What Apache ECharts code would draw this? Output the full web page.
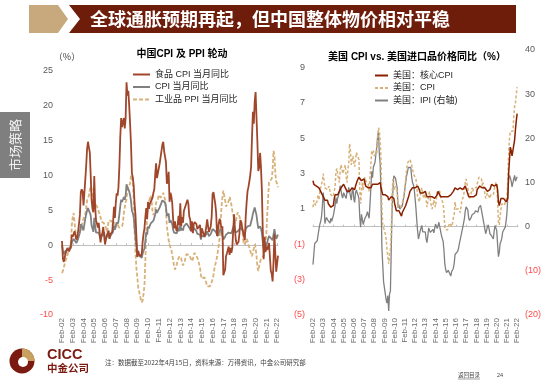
<!DOCTYPE html>
<html><head><meta charset="utf-8">
<script src="https://cdn.jsdelivr.net/npm/echarts@6/dist/echarts.min.js"></script>
<style>html,body{margin:0;padding:0;background:#fff}#c{width:550px;height:384px}</style>
</head><body><div id="c"></div>
<script>
// ---------- DATA ----------
// Monthly categories Feb-02 ... Mar-22
const monthNames = ['Jan','Feb','Mar','Apr','May','Jun','Jul','Aug','Sep','Oct','Nov','Dec'];
const categories = [];
for (let y = 2002; y <= 2022; y++) {
  for (let m = 0; m < 12; m++) {
    if (y === 2002 && m < 1) continue;
    if (y === 2022 && m > 2) break;
    categories.push(monthNames[m] + '-' + String(y).slice(2));
  }
}

// China: food CPI YoY (%), from Feb-02
const foodCPI = [
  0.6,-1.9,-2.4,-1.8,-1.2,-1.0,-0.4,-0.5,-0.9,-1.0,0.0,
  1.5,1.2,1.2,2.0,1.9,0.8,1.1,2.0,3.1,4.4,7.6,8.0,
  7.7,5.7,7.5,9.4,11.4,13.8,14.8,14.0,13.3,10.1,6.5,5.2,
  4.7,9.9,5.5,3.5,3.1,2.5,3.2,1.8,0.4,1.4,1.7,2.6,
  2.8,0.1,0.3,1.4,1.5,2.1,0.9,1.6,1.6,1.9,3.3,5.5,
  3.9,6.0,7.4,7.1,8.3,11.2,15.4,18.2,16.9,17.6,18.2,16.7,
  18.2,23.3,21.4,22.1,19.9,17.3,14.4,10.3,9.7,8.5,5.9,4.3,
  4.2,-1.7,-0.8,-1.3,-1.2,-1.6,-1.2,0.5,1.6,2.4,4.0,5.3,
  3.7,6.2,5.2,5.9,6.1,5.7,6.8,7.5,8.0,10.1,11.7,9.6,
  10.3,11.0,11.7,11.5,11.7,14.4,14.8,13.4,13.4,11.9,8.8,9.1,
  10.5,6.2,7.5,7.0,6.0,3.7,2.4,3.4,2.5,2.0,2.8,4.2,
  2.9,6.0,2.7,4.0,3.2,4.9,5.0,4.7,6.1,6.5,5.9,4.1,
  3.7,2.0,3.4,1.7,3.0,3.3,3.2,3.0,2.3,2.2,2.5,2.9,
  1.1,2.4,2.3,1.6,1.2,1.8,2.7,3.7,2.7,1.9,2.1,2.7,
  4.1,7.3,7.6,7.4,5.9,4.6,1.3,1.3,3.2,3.8,4.0,2.4,
  2.7,-4.3,-4.4,-3.5,-1.6,-1.2,-1.1,-0.2,-1.4,-0.4,-1.1,-0.4,
  -0.5,4.4,2.1,0.7,0.1,0.3,0.5,1.7,3.6,3.3,2.5,1.9,
  1.9,0.7,4.1,6.1,7.7,8.3,9.1,10.0,11.2,15.5,19.1,17.4,
  20.6,21.9,18.3,14.8,10.6,11.1,13.2,11.2,7.9,2.2,-2.0,1.2,
  -1.0,-0.2,-0.7,-0.7,0.3,-1.7,-3.7,-4.1,-5.2,-2.4,1.6,-1.2,
  -3.8,-3.9,-1.5
];
// China: CPI YoY (%)
const cnCPI = [
  0.0,-0.8,-1.3,-1.1,-0.8,-0.9,-0.7,-0.7,-0.8,-0.7,-0.4,
  0.4,0.2,0.9,1.0,0.7,0.3,0.5,0.9,1.1,1.8,3.0,3.2,
  3.2,2.1,3.0,3.8,4.4,5.0,5.3,5.3,5.2,4.3,2.8,2.4,
  1.9,3.9,2.7,1.8,1.8,1.6,1.8,1.3,0.9,1.2,1.3,1.6,
  1.9,0.9,0.8,1.2,1.4,1.5,1.0,1.3,1.5,1.4,1.9,2.8,
  2.2,2.7,3.3,3.0,3.4,4.4,5.6,6.5,6.2,6.5,6.9,6.5,
  7.1,8.7,8.3,8.5,7.7,7.1,6.3,4.9,4.6,4.0,2.4,1.2,
  1.0,-1.6,-1.2,-1.5,-1.4,-1.7,-1.8,-1.2,-0.8,-0.5,0.6,1.9,
  1.5,2.7,2.4,2.8,3.1,2.9,3.3,3.5,3.6,4.4,5.1,4.6,
  4.9,4.9,5.4,5.3,5.5,6.4,6.5,6.2,6.1,5.5,4.2,4.1,
  4.5,3.2,3.6,3.4,3.0,2.2,1.8,2.0,1.9,1.7,2.0,2.5,
  2.0,3.2,2.1,2.4,2.1,2.7,2.7,2.6,3.1,3.2,3.0,2.5,
  2.5,2.0,2.4,1.8,2.5,2.3,2.3,2.0,1.6,1.6,1.4,1.5,
  0.8,1.4,1.4,1.5,1.2,1.4,1.6,2.0,1.6,1.3,1.5,1.6,
  1.8,2.3,2.3,2.3,2.0,1.9,1.8,1.3,1.9,2.1,2.3,2.1,
  2.5,0.8,0.9,1.2,1.5,1.5,1.4,1.8,1.6,1.9,1.7,1.8,
  1.5,2.9,2.1,1.8,1.8,1.9,2.1,2.3,2.5,2.5,2.2,1.9,
  1.7,1.5,2.3,2.5,2.7,2.7,2.8,2.8,3.0,3.8,4.5,4.5,
  5.4,5.2,4.3,3.3,2.4,2.5,2.7,2.4,1.7,0.5,-0.5,0.2,
  -0.3,-0.2,0.4,0.9,1.3,1.1,1.0,0.8,0.7,1.5,2.3,1.5,
  0.9,0.9,1.5
];
// China: industrial PPI YoY (%)
const cnPPI = [
  -4.0,-3.7,-3.2,-2.7,-2.2,-1.9,-1.5,-0.9,-0.4,-0.1,0.4,
  2.9,4.0,4.6,3.2,2.0,1.3,1.4,1.5,1.7,1.8,2.2,2.5,
  3.5,3.6,4.0,4.5,5.3,6.4,6.4,7.1,7.9,8.4,8.1,7.1,
  5.8,5.4,5.6,5.8,5.9,5.2,5.2,5.3,4.0,3.4,3.2,3.2,
  3.1,3.0,2.5,1.9,2.4,3.5,3.6,3.4,3.5,2.9,2.8,3.1,
  3.3,2.6,2.7,2.9,2.8,2.5,2.4,2.6,2.7,3.2,4.6,5.4,
  6.1,6.6,8.0,8.1,8.2,8.8,10.0,10.1,9.1,6.6,2.0,-1.1,
  -3.3,-4.5,-6.0,-6.6,-7.2,-7.8,-8.2,-7.9,-7.0,-5.8,-2.1,1.7,
  4.3,5.4,5.9,6.8,7.1,6.4,4.8,4.3,4.3,5.0,6.1,5.9,
  6.6,7.2,7.3,6.8,6.8,7.1,7.5,7.3,6.5,5.0,2.7,1.7,
  0.7,0.0,-0.3,-0.7,-1.4,-2.1,-2.9,-3.5,-3.6,-2.8,-2.2,-1.9,
  -1.6,-1.6,-1.9,-2.6,-2.9,-2.7,-2.3,-1.6,-1.3,-1.5,-1.4,-1.4,
  -1.6,-2.0,-2.3,-2.0,-1.4,-1.1,-0.9,-1.2,-1.8,-2.2,-2.7,-3.3,
  -4.3,-4.8,-4.6,-4.6,-4.6,-4.8,-5.4,-5.9,-5.9,-5.9,-5.9,-5.9,
  -5.3,-4.9,-4.3,-3.4,-2.8,-2.6,-1.7,-0.8,0.1,1.2,3.3,5.5,
  6.9,7.8,7.6,6.4,5.5,5.5,5.5,6.3,6.9,6.9,5.8,4.9,
  4.3,3.7,3.1,3.4,4.1,4.7,4.6,4.1,3.6,3.3,2.7,0.9,
  0.1,0.1,0.4,0.9,0.6,0.0,-0.3,-0.8,-1.2,-1.6,-1.4,-0.5,
  0.1,-0.4,-1.5,-3.1,-3.7,-3.0,-2.4,-2.0,-2.1,-2.1,-1.5,-0.4,
  0.3,1.7,4.4,6.8,9.0,8.8,9.0,9.5,10.7,13.5,12.9,10.3,
  9.1,8.8,8.3
];
// US: core CPI YoY (%), from Feb-02
const usCore = [
  2.6,2.4,2.5,2.5,2.3,2.2,2.4,2.2,2.2,2.0,1.9,
  1.9,1.7,1.7,1.5,1.6,1.5,1.5,1.3,1.2,1.3,1.1,1.1,
  1.1,1.2,1.6,1.8,1.7,1.9,1.8,1.7,2.0,2.0,2.2,2.2,
  2.3,2.4,2.3,2.2,2.2,2.0,2.1,2.1,2.0,2.1,2.1,2.2,
  2.1,2.1,2.1,2.3,2.4,2.6,2.7,2.8,2.9,2.7,2.6,2.6,
  2.7,2.7,2.5,2.3,2.2,2.2,2.2,2.1,2.1,2.2,2.3,2.4,
  2.5,2.3,2.4,2.3,2.3,2.4,2.5,2.5,2.5,2.2,2.0,1.8,
  1.7,1.8,1.8,1.9,1.8,1.7,1.5,1.4,1.5,1.7,1.7,1.8,
  1.6,1.3,1.1,0.9,0.9,0.9,0.9,0.9,0.8,0.6,0.8,0.8,
  1.0,1.1,1.2,1.3,1.5,1.6,1.8,2.0,2.0,2.1,2.2,2.2,
  2.3,2.2,2.3,2.3,2.3,2.2,2.1,1.9,2.0,2.0,1.9,1.9,
  1.9,2.0,1.9,1.7,1.7,1.6,1.7,1.8,1.7,1.7,1.7,1.7,
  1.6,1.6,1.7,1.8,2.0,1.9,1.9,1.7,1.7,1.8,1.7,1.6,
  1.6,1.7,1.8,1.8,1.7,1.8,1.8,1.8,1.9,1.9,2.0,2.1,
  2.2,2.3,2.2,2.1,2.2,2.2,2.2,2.3,2.2,2.1,2.1,2.2,
  2.3,2.2,2.0,1.9,1.7,1.7,1.7,1.7,1.7,1.8,1.7,1.8,
  1.8,1.8,2.1,2.1,2.2,2.3,2.4,2.2,2.2,2.1,2.2,2.2,
  2.2,2.1,2.0,2.1,2.0,2.1,2.2,2.4,2.4,2.3,2.3,2.3,
  2.3,2.4,2.1,1.4,1.2,1.2,1.6,1.7,1.7,1.6,1.6,1.6,
  1.4,1.3,1.6,3.0,3.8,4.5,4.3,4.0,4.0,4.6,4.9,5.5,
  6.0,6.4
];
// US: CPI YoY (%)
const usCPI = [
  1.1,1.5,1.6,1.2,1.1,1.5,1.8,1.5,2.0,2.2,2.4,
  2.6,3.0,3.0,2.2,2.1,2.1,2.1,2.2,2.3,2.0,1.8,1.9,
  1.9,1.7,1.7,2.3,3.1,3.3,3.0,2.7,2.5,3.2,3.5,3.3,
  3.0,3.0,3.1,3.5,2.8,2.5,3.2,3.6,4.7,4.3,3.5,3.4,
  4.0,3.6,3.4,3.5,4.2,4.3,4.1,3.8,2.1,1.3,2.0,2.5,
  2.1,2.4,2.8,2.6,2.7,2.7,2.4,2.0,2.8,3.5,4.3,4.1,
  4.3,4.0,4.0,3.9,4.2,5.0,5.6,5.4,4.9,3.7,1.1,0.1,
  0.0,0.2,-0.4,-0.7,-1.3,-1.4,-2.1,-1.5,-1.3,-0.2,1.8,2.7,
  2.6,2.1,2.3,2.2,2.0,1.1,1.2,1.1,1.1,1.2,1.1,1.5,
  1.6,2.1,2.7,3.2,3.6,3.6,3.6,3.8,3.9,3.5,3.4,3.0,
  2.9,2.9,2.7,2.3,1.7,1.7,1.4,1.7,2.0,2.2,1.8,1.7,
  1.6,2.0,1.5,1.1,1.4,1.8,2.0,1.5,1.2,1.0,1.2,1.5,
  1.6,1.1,1.5,2.0,2.1,2.1,2.0,1.7,1.7,1.7,1.3,0.8,
  -0.1,0.0,-0.1,-0.2,0.0,0.1,0.2,0.2,0.0,0.2,0.5,0.7,
  1.4,1.0,0.9,1.1,1.0,1.0,0.8,1.1,1.5,1.6,1.7,2.1,
  2.5,2.7,2.4,2.2,1.9,1.6,1.7,1.9,2.2,2.0,2.2,2.1,
  2.1,2.2,2.4,2.5,2.8,2.9,2.9,2.7,2.3,2.5,2.2,1.9,
  1.6,1.5,1.9,2.0,1.8,1.6,1.8,1.7,1.7,1.8,2.1,2.3,
  2.5,2.3,1.5,0.3,0.1,0.6,1.0,1.3,1.4,1.2,1.2,1.4,
  1.4,1.7,2.6,4.2,5.0,5.4,5.4,5.3,5.4,6.2,6.8,7.0,
  7.5,7.9
];
// US: import price index YoY (%), right axis
const usIPI = [
  -8.6,-6.2,-3.8,-3.6,-3.4,-3.2,-1.8,-0.6,0.5,1.2,2.2,
  4.6,7.7,5.8,0.7,1.6,2.1,1.6,1.5,1.8,0.8,1.9,1.2,
  1.9,2.6,2.9,4.8,6.6,5.2,6.5,7.0,7.0,9.3,9.2,7.0,
  6.5,7.7,7.3,7.5,6.4,8.1,7.6,8.9,9.3,8.9,6.0,8.0,
  8.8,6.2,5.5,7.7,8.3,7.6,7.1,6.4,2.1,-0.1,2.8,2.5,
  0.5,0.6,1.9,2.0,2.6,3.4,3.7,1.9,5.1,8.6,12.5,11.1,
  13.5,14.0,14.7,16.5,18.1,20.5,21.5,16.4,14.2,6.5,-4.7,-8.7,
  -12.5,-12.6,-15.2,-16.6,-17.3,-15.6,-19.1,-15.2,-14.6,-5.1,4.1,8.4,
  11.5,11.5,11.0,10.9,8.7,4.3,5.0,4.0,4.2,3.6,4.7,6.0,
  6.9,8.6,10.1,11.5,12.3,13.4,13.3,13.0,13.4,11.2,10.0,9.5,
  8.5,6.4,4.2,1.4,-1.0,-2.8,-3.2,-1.0,-0.3,0.3,-1.2,-1.6,
  -1.4,-1.2,-2.8,-3.6,-2.1,-0.3,0.0,-1.3,-1.0,-1.6,-0.6,-1.4,
  -1.6,0.6,0.7,-0.4,0.2,1.0,0.0,-1.0,-2.0,-2.7,-3.3,-5.5,
  -8.5,-9.7,-10.4,-10.5,-9.9,-10.0,-10.7,-11.2,-10.2,-10.6,-9.4,-8.3,
  -6.3,-6.7,-6.3,-5.6,-5.0,-3.9,-3.7,-2.1,-1.1,-0.2,-0.2,1.8,
  3.6,4.5,4.2,3.8,2.0,1.4,1.3,2.1,2.7,2.4,3.0,3.1,
  3.6,3.5,3.6,3.3,4.3,4.5,4.8,3.8,3.4,3.4,0.6,-0.5,
  -1.6,-1.2,-0.1,0.4,-0.5,-1.6,-1.9,-2.1,-1.9,-2.8,-1.0,0.3,
  0.3,-0.9,-4.0,-6.8,-5.8,-3.8,-3.3,-2.6,-1.2,-1.0,-1.0,-0.1,
  1.2,3.1,6.8,10.8,11.6,11.1,10.3,9.0,9.2,10.8,11.6,10.3,
  10.7,11.3
];

// ---------- STYLE ----------
const FONT = '"Liberation Sans", "Noto Sans CJK SC", sans-serif';
const CJK = '"Noto Sans CJK SC", "Liberation Sans", sans-serif';
const BROWN = '#A0462A', DARKRED = '#8B2000', GRAY = '#808080', TAN = '#D8B27A';
const LBL = '#595959', NEG = '#FF4B4B';

const chart = echarts.init(document.getElementById('c'), null, {renderer: 'canvas'});

function xLabelAxis(grid) {
  return {type: 'category', gridIndex: grid, data: categories, boundaryGap: false,
    axisLine: {show: false, onZero: false}, axisTick: {show: false}, splitLine: {show: false},
    axisLabel: {interval: 11, rotate: 90, fontSize: 8, color: '#6A6A6A', margin: 3, fontFamily: FONT}};
}
function xZeroAxis(grid) {
  return {type: 'category', gridIndex: grid, data: categories, boundaryGap: false, position: 'bottom',
    axisLine: {show: true, onZero: true, lineStyle: {color: '#BFBFBF', width: 1}},
    axisTick: {show: true, inside: true, interval: 11, length: 2, lineStyle: {color: '#BFBFBF'}},
    axisLabel: {show: false}, splitLine: {show: false}};
}
const yBase = {type: 'value', axisLine: {show: false}, axisTick: {show: false}, splitLine: {show: false}};
const legendBase = {orient: 'vertical', padding: 0, itemHeight: 8, itemGap: 3.5,
  itemStyle: {opacity: 0}, textStyle: {fontSize: 9, color: '#262626', fontFamily: FONT}};

const option = {
  animation: false,
  backgroundColor: '#ffffff',
  textStyle: {fontFamily: FONT},
  grid: [
    {left: 62, top: 70.5, width: 216, height: 244.5},
    {left: 313, top: 50, width: 205, height: 265}
  ],
  xAxis: [xLabelAxis(0), xZeroAxis(0), xLabelAxis(1), xZeroAxis(1)],
  yAxis: [
    Object.assign({}, yBase, {gridIndex: 0, min: -10, max: 25, interval: 5,
      axisLabel: {fontSize: 9, margin: 9, fontFamily: FONT,
        color: v => (Number(v) < 0 ? NEG : LBL)}}),
    Object.assign({}, yBase, {gridIndex: 1, position: 'left', min: -5, max: 10, interval: 2,
      axisLabel: {fontSize: 9, margin: 8, fontFamily: FONT, showMaxLabel: false,
        formatter: v => (v < 0 ? '(' + Math.abs(v) + ')' : String(v)),
        color: v => (Number(v) < 0 ? NEG : LBL)}}),
    Object.assign({}, yBase, {gridIndex: 1, position: 'right', min: -20, max: 40, interval: 10,
      axisLabel: {fontSize: 9, margin: 7, fontFamily: FONT,
        formatter: v => (v < 0 ? '(' + Math.abs(v) + ')' : String(v)),
        color: v => (Number(v) < 0 ? NEG : LBL)}})
  ],
  legend: [
    Object.assign({}, legendBase, {left: 132, top: 70, itemWidth: 17,
      data: ['食品 CPI 当月同比', 'CPI 当月同比', '工业品 PPI 当月同比']}),
    Object.assign({}, legendBase, {left: 374, top: 71, itemWidth: 13,
      data: ['美国：核心CPI', '美国：CPI', '美国：IPI (右轴)']})
  ],
  series: [
    {name: '工业品 PPI 当月同比', type: 'line', xAxisIndex: 0, yAxisIndex: 0, data: cnPPI,
      symbol: 'none', z: 2, lineStyle: {color: TAN, width: 1.8, type: [4, 2]}, itemStyle: {color: TAN}},
    {name: 'CPI 当月同比', type: 'line', xAxisIndex: 0, yAxisIndex: 0, data: cnCPI,
      symbol: 'none', z: 3, lineStyle: {color: GRAY, width: 1.8}, itemStyle: {color: GRAY}},
    {name: '食品 CPI 当月同比', type: 'line', xAxisIndex: 0, yAxisIndex: 0, data: foodCPI,
      symbol: 'none', z: 4, lineStyle: {color: BROWN, width: 1.8}, itemStyle: {color: BROWN}},
    {name: '美国：IPI (右轴)', type: 'line', xAxisIndex: 2, yAxisIndex: 2, data: usIPI,
      symbol: 'none', z: 2, lineStyle: {color: GRAY, width: 1.3}, itemStyle: {color: GRAY}},
    {name: '美国：CPI', type: 'line', xAxisIndex: 2, yAxisIndex: 1, data: usCPI,
      symbol: 'none', z: 3, lineStyle: {color: TAN, width: 1.5, type: [3, 2]}, itemStyle: {color: TAN}},
    {name: '美国：核心CPI', type: 'line', xAxisIndex: 2, yAxisIndex: 1, data: usCore,
      symbol: 'none', z: 4, lineStyle: {color: DARKRED, width: 1.5}, itemStyle: {color: DARKRED}}
  ],
  graphic: [
    // header
    {type: 'polygon', shape: {points: [[29, 5], [58, 5], [68, 19], [58, 33], [29, 33]]}, style: {fill: '#C8A97E'}},
    {type: 'polygon', shape: {points: [[69, 5], [516, 5], [516, 33], [69, 33], [80, 19]]}, style: {fill: '#6F1D0B'}},
    {type: 'text', x: 90, y: 19, style: {text: '全球通胀预期再起，但中国整体物价相对平稳', fill: '#ffffff',
      font: 'bold 18px ' + CJK, textAlign: 'left', textVerticalAlign: 'middle'}},
    // side tab
    {type: 'rect', shape: {x: 0, y: 112, width: 30, height: 66}, style: {fill: '#7F7F7F'}},
    {type: 'text', x: 15, y: 145, rotation: Math.PI / 2, style: {text: '市场策略', fill: '#F2F2F2',
      font: '13px ' + CJK, textAlign: 'center', textVerticalAlign: 'middle'}},
    // chart titles
    {type: 'text', x: 182, y: 54, style: {text: '中国CPI 及 PPI 轮动', fill: '#000',
      font: 'bold 10px ' + FONT, textAlign: 'center', textVerticalAlign: 'middle'}},
    {type: 'text', x: 67, y: 57, style: {text: '（%）', fill: '#404040',
      font: '9px ' + CJK, textAlign: 'center', textVerticalAlign: 'middle'}},
    {type: 'text', x: 417, y: 57, style: {text: '美国 CPI vs. 美国进口品价格同比（%）', fill: '#000',
      font: 'bold 10px ' + FONT, textAlign: 'center', textVerticalAlign: 'middle'}},
    // logo
    {type: 'circle', shape: {cx: 22, cy: 361, r: 12.5}, style: {fill: '#7B1A10'}},
    {type: 'sector', shape: {cx: 22, cy: 361, r: 12.5, r0: 0, startAngle: -Math.PI / 2, endAngle: 0}, style: {fill: '#C8A060'}},
    {type: 'circle', shape: {cx: 23, cy: 362, r: 5}, style: {fill: '#ffffff'}},
    {type: 'text', x: 47, y: 355, style: {text: 'CICC', fill: '#7B1A10',
      font: 'bold 14.5px ' + FONT, textAlign: 'left', textVerticalAlign: 'middle'}},
    {type: 'text', x: 47, y: 368, style: {text: '中金公司', fill: '#7B1A10',
      font: 'bold 10.5px ' + CJK, textAlign: 'left', textVerticalAlign: 'middle'}},
    // footer
    {type: 'text', x: 105, y: 363, style: {text: '注：数据截至2022年4月15日，资料来源：万得资讯，中金公司研究部', fill: '#404040',
      font: '6.5px ' + CJK, textAlign: 'left', textVerticalAlign: 'middle'}},
    {type: 'text', x: 458, y: 375, style: {text: '返回目录', fill: '#404040',
      font: '5.5px ' + CJK, textAlign: 'left', textVerticalAlign: 'middle'}},
    {type: 'line', shape: {x1: 458, y1: 379, x2: 480, y2: 379}, style: {stroke: '#404040', lineWidth: 0.5}},
    {type: 'text', x: 497, y: 375, style: {text: '24', fill: '#404040',
      font: '5.5px ' + FONT, textAlign: 'left', textVerticalAlign: 'middle'}}
  ]
};
chart.setOption(option);
</script></body></html>
